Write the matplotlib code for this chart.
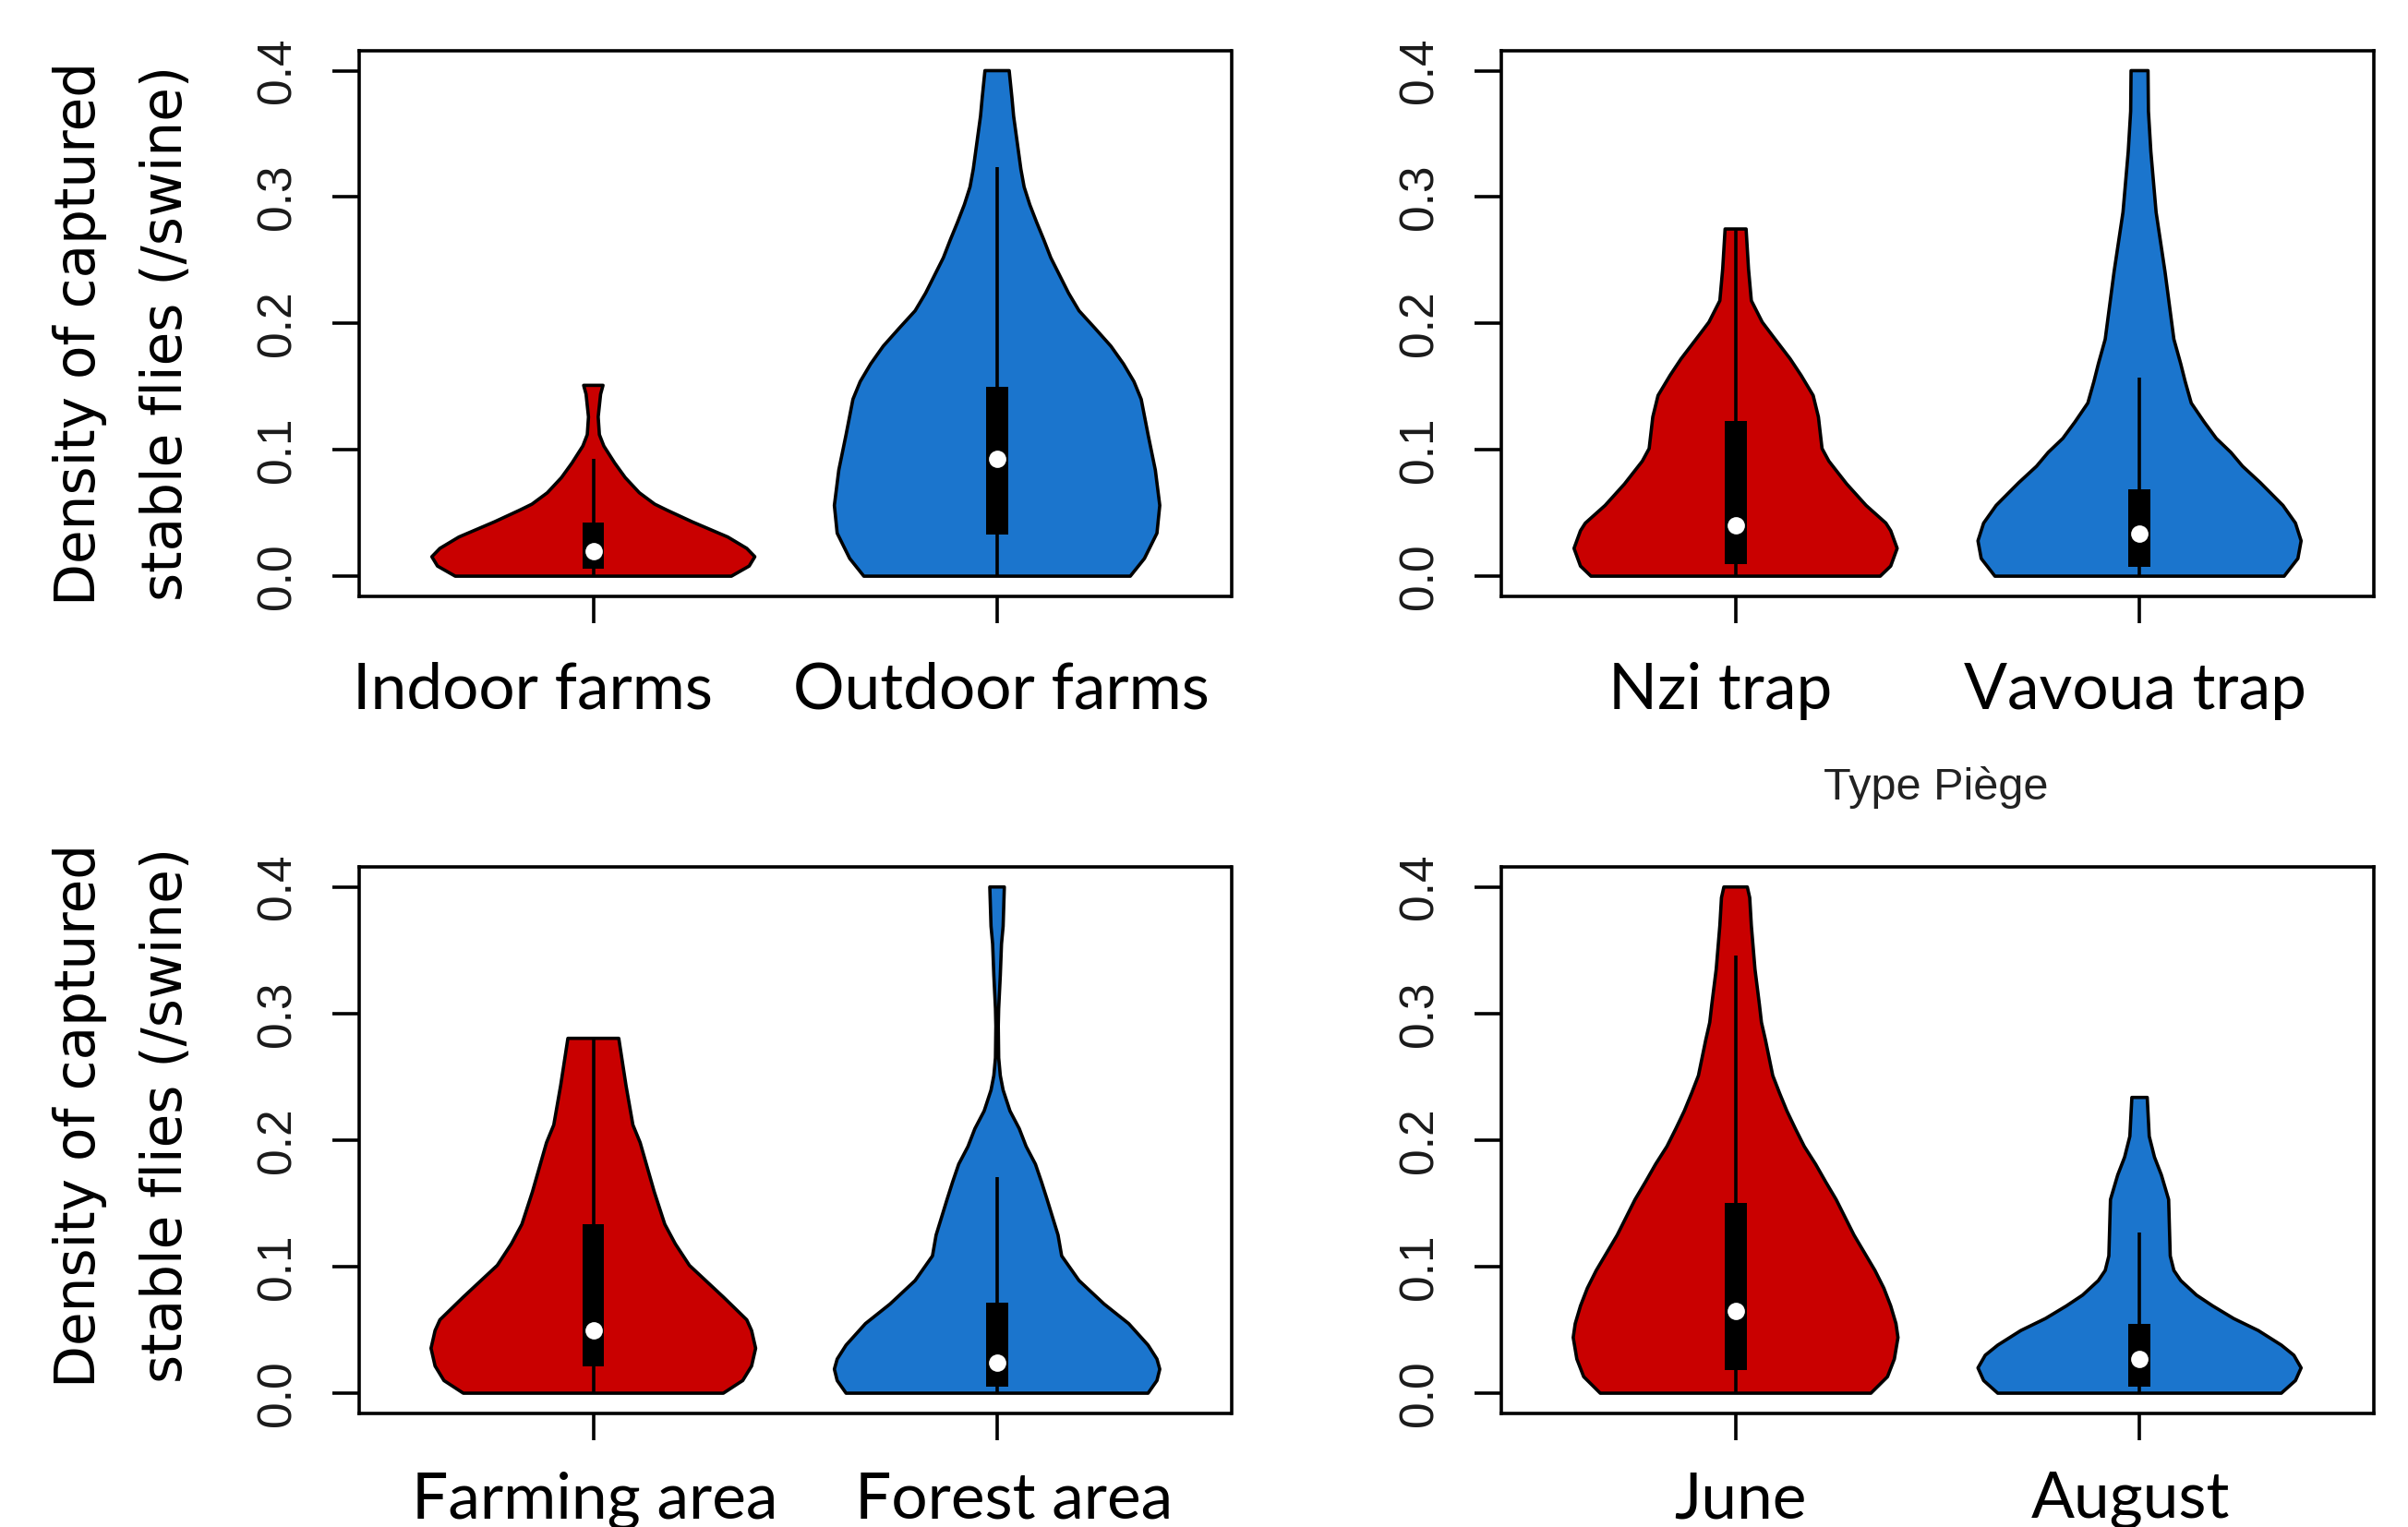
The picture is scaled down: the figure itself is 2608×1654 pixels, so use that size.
import matplotlib
matplotlib.use("Agg")
import matplotlib.pyplot as plt
from matplotlib.patches import Polygon, Rectangle
from matplotlib.transforms import ScaledTranslation

# ---------------- data ----------------
RED = "#C90000"
BLUE = "#1B75CD"

# Panel A: farm type
farm_labels = ["Indoor farms", "Outdoor farms"]
indoor_y = [0, 0.008, 0.0154, 0.022, 0.031, 0.043, 0.052, 0.057, 0.066, 0.078,
            0.0895, 0.103, 0.112, 0.126, 0.144, 0.151]
indoor_hw = [0.342, 0.386, 0.400, 0.380, 0.333, 0.245, 0.184, 0.152, 0.114, 0.079,
             0.053, 0.026, 0.015, 0.012, 0.018, 0.024]
outdoor_y = [0, 0.014, 0.034, 0.056, 0.084, 0.112, 0.140, 0.154, 0.168, 0.182, 0.196,
             0.210, 0.224, 0.238, 0.252, 0.266, 0.280, 0.294, 0.308, 0.322, 0.336,
             0.350, 0.364, 0.378, 0.400]
outdoor_hw = [0.330, 0.365, 0.396, 0.403, 0.392, 0.374, 0.357, 0.339, 0.313, 0.282, 0.243,
              0.203, 0.177, 0.155, 0.133, 0.116, 0.098, 0.081, 0.067, 0.059, 0.053,
              0.047, 0.041, 0.037, 0.030]
farm_q1 = [0.0062, 0.0327]
farm_med = [0.0196, 0.093]
farm_q3 = [0.0425, 0.150]
farm_whi = [0.093, 0.3236]

# Panel B: trap type
trap_labels = ["Nzi trap", "Vavoua trap"]
nzi_y = [0, 0.008, 0.022, 0.036, 0.042, 0.056, 0.073, 0.091, 0.101, 0.126, 0.143,
         0.159, 0.172, 0.190, 0.201, 0.218, 0.243, 0.2747]
nzi_hw = [0.358, 0.384, 0.400, 0.384, 0.372, 0.323, 0.275, 0.231, 0.214, 0.205, 0.192,
          0.162, 0.135, 0.092, 0.066, 0.039, 0.032, 0.026]
vavoua_y = [0, 0.014, 0.028, 0.042, 0.056, 0.074, 0.087, 0.098, 0.109, 0.122, 0.137,
            0.154, 0.168, 0.1875, 0.241, 0.288, 0.336, 0.368, 0.400]
vavoua_hw = [0.358, 0.392, 0.400, 0.386, 0.355, 0.299, 0.255, 0.226, 0.190, 0.160, 0.128,
             0.113, 0.102, 0.085, 0.063, 0.041, 0.028, 0.022, 0.021]
trap_q1 = [0.0098, 0.0076]
trap_med = [0.0406, 0.0336]
trap_q3 = [0.123, 0.069]
trap_whi = [0.2747, 0.157]

# Panel C: area
area_labels = ["Farming area", "Forest area"]
farming_y = [0, 0.010, 0.0215, 0.0355, 0.0495, 0.058, 0.076, 0.101, 0.118, 0.1335,
             0.159, 0.198, 0.212, 0.243, 0.2804]
farming_hw = [0.322, 0.370, 0.392, 0.402, 0.392, 0.380, 0.322, 0.238, 0.203, 0.177,
              0.151, 0.116, 0.098, 0.081, 0.063]
forest_y = [0, 0.010, 0.019, 0.027, 0.038, 0.055, 0.0705, 0.089, 0.1085, 0.125, 0.153,
            0.167, 0.181, 0.195, 0.209, 0.223, 0.2395, 0.251, 0.265, 0.290, 0.304,
            0.330, 0.355, 0.369, 0.400]
forest_hw = [0.374, 0.396, 0.403, 0.396, 0.374, 0.326, 0.265, 0.203, 0.160, 0.151, 0.124,
             0.110, 0.095, 0.072, 0.055, 0.032, 0.015, 0.008, 0.004, 0.003, 0.004,
             0.008, 0.011, 0.015, 0.018]
area_q1 = [0.021, 0.0048]
area_med = [0.0495, 0.0243]
area_q3 = [0.1335, 0.0714]
area_whi = [0.2804, 0.1704]

# Panel D: month
month_labels = ["June", "August"]
june_y = [0, 0.013, 0.027, 0.044, 0.055, 0.069, 0.083, 0.097, 0.111, 0.125, 0.139,
          0.153, 0.167, 0.181, 0.195, 0.209, 0.223, 0.237, 0.251, 0.265, 0.279,
          0.293, 0.307, 0.335, 0.3695, 0.3915, 0.400]
june_hw = [0.335, 0.376, 0.393, 0.402, 0.397, 0.384, 0.367, 0.345, 0.319, 0.293, 0.271,
           0.249, 0.223, 0.198, 0.170, 0.148, 0.127, 0.109, 0.092, 0.083, 0.074,
           0.064, 0.059, 0.048, 0.039, 0.035, 0.029]
august_y = [0, 0.010, 0.020, 0.030, 0.038, 0.0495, 0.059, 0.069, 0.0775, 0.089, 0.097,
            0.1085, 0.153, 0.1725, 0.1865, 0.203, 0.2337]
august_hw = [0.351, 0.386, 0.400, 0.382, 0.351, 0.294, 0.233, 0.181, 0.141, 0.102, 0.085,
             0.076, 0.072, 0.054, 0.037, 0.024, 0.019]
month_q1 = [0.0182, 0.0048]
month_med = [0.065, 0.027]
month_q3 = [0.150, 0.0546]
month_whi = [0.3457, 0.1273]

y_ticks = [0.0, 0.1, 0.2, 0.3, 0.4]
y_ticklabels = ["0.0", "0.1", "0.2", "0.3", "0.4"]
ylabel_lines = ["Density of captured", "stable flies (/swine)"]
trap_axis_title = "Type Piège"

# ---------------- drawing ----------------
W, H = 2608, 1654
fig = plt.figure(figsize=(W / 100, H / 100), dpi=100)
fig.patch.set_facecolor("white")

LW = 2.6
BOX_HALF = 0.027

def px_rect(x0, y0, x1, y1):
    return [x0 / W, 1 - y1 / H, (x1 - x0) / W, (y1 - y0) / H]

# horizontal nudges (in pixels) of the category labels, as placed in the reference
label_shift_px = [(-66, 5), (-17, -5), (2, 18), (5, -10)]
label_pad = [30, 30, 24, 24]

panels = [
    (px_rect(389, 54.6, 1333.5, 646), farm_labels,
     [(indoor_y, indoor_hw), (outdoor_y, outdoor_hw)], farm_q1, farm_med, farm_q3, farm_whi),
    (px_rect(1626, 54.6, 2571, 646), trap_labels,
     [(nzi_y, nzi_hw), (vavoua_y, vavoua_hw)], trap_q1, trap_med, trap_q3, trap_whi),
    (px_rect(389, 938.8, 1333.5, 1531), area_labels,
     [(farming_y, farming_hw), (forest_y, forest_hw)], area_q1, area_med, area_q3, area_whi),
    (px_rect(1626, 938.8, 2571, 1531), month_labels,
     [(june_y, june_hw), (august_y, august_hw)], month_q1, month_med, month_q3, month_whi),
]

colors = [RED, BLUE]

for p, (rect, labels, profiles, q1s, meds, q3s, whis) in enumerate(panels):
    ax = fig.add_axes(rect)
    for i, (ys, hws) in enumerate(profiles):
        c = i + 1
        left = [(c - w, y) for y, w in zip(ys, hws)]
        right = [(c + w, y) for y, w in zip(ys, hws)][::-1]
        ax.add_patch(Polygon(left + right, closed=True, facecolor=colors[i],
                             edgecolor="black", linewidth=LW, joinstyle="round", zorder=2))
        ax.plot([c, c], [0, whis[i]], color="black", lw=LW, solid_capstyle="butt", zorder=3)
        ax.add_patch(Rectangle((c - BOX_HALF, q1s[i]), 2 * BOX_HALF, q3s[i] - q1s[i],
                               facecolor="black", edgecolor="none", zorder=4))
        ax.plot([c], [meds[i]], marker="o", color="white", markersize=13.5,
                markeredgewidth=0, zorder=5)
    ax.set_xlim(0.42, 2.58)
    ax.set_ylim(-0.016, 0.416)
    ax.set_xticks([1, 2])
    ax.set_xticklabels(labels, fontfamily="Lato", fontsize=50)
    ax.set_yticks(y_ticks)
    ax.set_yticklabels(y_ticklabels, fontfamily="Liberation Sans", fontsize=37,
                       rotation=90, va="center", color="#1a1a1a")
    ax.tick_params(axis="both", direction="out", length=21, width=LW, color="black")
    ax.tick_params(axis="y", pad=25)
    ax.tick_params(axis="x", pad=label_pad[p])
    for s in ax.spines.values():
        s.set_linewidth(LW)
        s.set_color("black")
    for lab, dx in zip(ax.get_xticklabels(), label_shift_px[p]):
        lab.set_transform(lab.get_transform() +
                          ScaledTranslation(dx / 100, 0, fig.dpi_scale_trans))

# y labels (two lines each)
for cy in (361, 1208):
    fig.text(87 / W, 1 - cy / H, ylabel_lines[0], rotation=90, ha="center", va="center",
             fontfamily="DejaVu Sans", fontsize=43, color="black")
    fig.text(181 / W, 1 - cy / H, ylabel_lines[1], rotation=90, ha="center", va="center",
             fontfamily="DejaVu Sans", fontsize=43, color="black")

fig.text(2097 / W, 1 - 853 / H, trap_axis_title, ha="center", va="center",
         fontfamily="Liberation Sans", fontsize=35, color="#222222")

fig.savefig("out.png", dpi=100, facecolor="white")
